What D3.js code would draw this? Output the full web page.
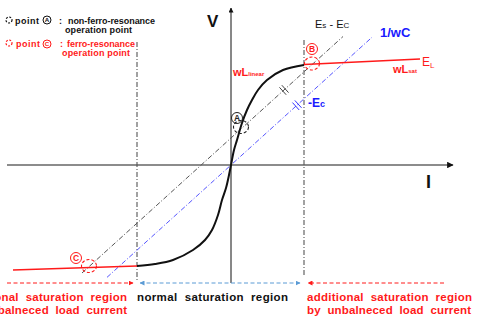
<!DOCTYPE html>
<html><head><meta charset="utf-8">
<script src="https://cdn.jsdelivr.net/npm/d3@7/dist/d3.min.js"></script>
<style>body{margin:0;background:#fff}svg{display:block;font-family:"Liberation Sans",Arial,sans-serif;font-weight:bold}</style>
</head><body>
<svg id="c" width="477" height="320"></svg>
<script>
// ---- data (arbitrary I / V units) ----
const magCurve = [[-9.4,-10.1],[-7.6,-9.9],[-5.8,-9.5],[-3.8,-8.5],[-2.6,-7.5],[-1.9,-6.5],[-1.3,-5.0],[-0.9,-3.5],[-0.5,-2.3],[-0.2,-1.0],[0,0],[0.3,1.5],[0.6,2.5],[1.1,4.2],[1.6,5.5],[2.1,6.5],[2.7,7.5],[3.6,8.5],[5.2,9.5],[7.3,10.0]];
const satRight = [[7.3,10.05],[18.9,10.6]];
const satLeft = [[-21.8,-10.5],[-9.4,-10.1]];
const capSlope = 0.906;          // 1/wC
const esOffset = 2.7;            // Es - Ec
const capRange = [-12.4, 14.1];
const esRange = [-14.9, 11.2];
const limitI = [-9.4, 7.3];
const limitV = [[12.3,-11.5],[12.5,-11.0]];
const opPoints = [{id:"A",I:1.0,V:3.8,c:"#222"},{id:"B",I:8.1,V:10.15,c:"#ff1a1a"},{id:"C",I:-14.2,V:-10.1,c:"#ff1a1a"}];
const opLabels = [{id:"A",I:0.6,V:4.7,c:"#222"},{id:"B",I:8.1,V:11.6,c:"#ff1a1a"},{id:"C",I:-15.5,V:-9.3,c:"#ff1a1a"}];
const hashes = [{I:5.3,off:esOffset,c:"#444"},{I:6.6,off:0,c:"#3333ff"}];
const regionText = [
  {x:127,a:"end",c:"#ff1a1a",l:["additional  saturation  region","by  unbalneced  load  current"],w:[165,164]},
  {x:137,a:"start",c:"#111",l:["normal  saturation  region"],w:[151]},
  {x:307,a:"start",c:"#ff1a1a",l:["additional  saturation  region","by  unbalneced  load  current"],w:[165,164]}];

const svg = d3.select("#c");
const x = d3.scaleLinear().domain([-10,10]).range([131,331]);
const y = d3.scaleLinear().domain([-10,10]).range([265,65]);
const line = d3.line().x(d=>x(d[0])).y(d=>y(d[1]));

const defs = svg.append("defs");
function marker(id,color){
  defs.append("marker").attr("id",id).attr("viewBox","0 0 10 10").attr("refX",9).attr("refY",5)
   .attr("markerWidth",5).attr("markerHeight",5).attr("orient","auto-start-reverse")
   .append("path").attr("d","M0,0L10,5L0,10z").attr("fill",color);
}
marker("ak","#111"); marker("ar","#ff1a1a"); marker("ab","#5b9bd5");

// axes
svg.append("line").attr("x1",x(-22.4)).attr("x2",x(22.2)).attr("y1",y(0)).attr("y2",y(0))
  .attr("stroke","#666").attr("stroke-width",1.3).attr("marker-end","url(#ak)");
svg.append("line").attr("x1",x(0)).attr("x2",x(0)).attr("y1",y(-11.8)).attr("y2",y(15.7))
  .attr("stroke","#111").attr("stroke-width",1).attr("marker-end","url(#ak)");

// vertical limit lines
limitI.forEach((v,i)=>{
  svg.append("line").attr("x1",x(v)).attr("x2",x(v)).attr("y1",y(limitV[i][0])).attr("y2",y(limitV[i][1]))
   .attr("stroke","#555").attr("stroke-width",1.1).attr("stroke-dasharray","5,2,1,2");
});

// capacitor lines
svg.append("path").attr("d",line(capRange.map(i=>[i,capSlope*i]))).attr("fill","none")
  .attr("stroke","#5555ff").attr("stroke-width",1).attr("stroke-dasharray","5,2,1,2");
svg.append("path").attr("d",line(esRange.map(i=>[i,esOffset+capSlope*i]))).attr("fill","none")
  .attr("stroke","#555").attr("stroke-width",1).attr("stroke-dasharray","5,2,1,2");

// hash marks
hashes.forEach(h=>{
  const px=x(h.I), py=y(h.off+capSlope*h.I);
  const ang=Math.atan2(-capSlope,1);
  const dx=Math.cos(ang), dy=Math.sin(ang);
  [-1.6,1.6].forEach(s=>{
    const cx=px+dx*s, cy=py+dy*s;
    svg.append("line").attr("x1",cx-dy*5).attr("y1",cy+dx*5).attr("x2",cx+dy*5).attr("y2",cy-dx*5)
      .attr("stroke",h.c).attr("stroke-width",1);
  });
});

// saturation red lines
[satRight,satLeft].forEach(d=>svg.append("path").attr("d",line(d)).attr("fill","none").attr("stroke","#ff1a1a").attr("stroke-width",1.5));
// magnetizing curve
svg.append("path").attr("d",d3.line().curve(d3.curveCatmullRom).x(d=>x(d[0])).y(d=>y(d[1]))(magCurve))
  .attr("fill","none").attr("stroke","#111").attr("stroke-width",2);

// operating points
opPoints.forEach(p=>svg.append("ellipse").attr("cx",x(p.I)).attr("cy",y(p.V)).attr("rx",7.5).attr("ry",6.5)
  .attr("fill","none").attr("stroke",p.c).attr("stroke-width",1.1).attr("stroke-dasharray","3,2"));
function circ(g,cx,cy,id,c,r){
  g.append("circle").attr("cx",cx).attr("cy",cy).attr("r",r).attr("fill","none").attr("stroke",c).attr("stroke-width",1);
  g.append("text").attr("x",cx).attr("y",cy+r*0.55).attr("text-anchor","middle").attr("font-size",r*1.55).attr("fill",c).text(id);
}
opLabels.forEach(p=>circ(svg,x(p.I),y(p.V),p.id,p.c,5.5));

// text labels
function txt(xp,yp,parts,color,size){
  const t=svg.append("text").attr("x",xp).attr("y",yp).attr("fill",color).attr("font-size",size);
  parts.forEach(p=>t.append("tspan").attr("font-size",p[1]||size).attr("dy",p[2]||0).text(p[0]));
  return t;
}
txt(207,27,[["V"]],"#111",17);
txt(426,188,[["I"]],"#111",18);
txt(315,28,[["E"],["s",8],[" -  ",11],["E",11],["C",8]],"#111",11).attr("font-weight","normal");
txt(380,37,[["1/wC"]],"#1a1aff",13);
txt(422,66,[["E"],["L",8,2]],"#ff1a1a",12).attr("font-weight","normal");
txt(393,73,[["wL"],["sat",6]],"#ff1a1a",11);
txt(233,76,[["wL"],["linear",6]],"#ff1a1a",11);
txt(308,107,[["-E"],["c",9]],"#1a1aff",12);

// legend
const lg=svg.append("g");
function lt(xp,yp,s,c,w,fs){ const t=lg.append("text").attr("x",xp).attr("y",yp).attr("font-size",fs||9).attr("fill",c).style("white-space","pre").text(s); if(w) t.attr("textLength",w).attr("lengthAdjust","spacing"); }
lg.append("circle").attr("cx",9).attr("cy",20).attr("r",3).attr("fill","none").attr("stroke","#111").attr("stroke-width",1.2).attr("stroke-dasharray","2,1.5");
lg.append("circle").attr("cx",9).attr("cy",43).attr("r",3).attr("fill","none").attr("stroke","#ff1a1a").attr("stroke-width",1.2).attr("stroke-dasharray","2,1.5");
lt(15,23.5,"point","#111",24);
circ(lg,47,20,"A","#111",4);
lt(59,23.5,":","#111");
lt(68,23.5,"non-ferro-resonance","#111",87);
lt(65,33,"operation point","#111",67);
lt(16,46.5,"point","#ff1a1a",24);
circ(lg,47,44,"C","#ff1a1a",4);
lt(60,46.5,":","#ff1a1a");
lt(67,46.5,"ferro-resonance","#ff1a1a",68);
lt(62,55.5,"operation point","#ff1a1a",68);

// region arrows
const ay=283;
svg.append("line").attr("x1",7).attr("x2",133).attr("y1",ay).attr("y2",ay).attr("stroke","#ff1a1a").attr("stroke-dasharray","4,2.5").attr("marker-end","url(#ar)");
svg.append("line").attr("x1",140).attr("x2",300).attr("y1",ay).attr("y2",ay).attr("stroke","#5b9bd5").attr("stroke-dasharray","4,2.5").attr("marker-end","url(#ab)").attr("marker-start","url(#ab)");
svg.append("line").attr("x1",444).attr("x2",308).attr("y1",ay).attr("y2",ay).attr("stroke","#ff1a1a").attr("stroke-dasharray","4,2.5").attr("marker-end","url(#ar)");

// region labels
regionText.forEach(r=>r.l.forEach((s,i)=>svg.append("text").attr("x",r.x).attr("y",301+i*13).attr("text-anchor",r.a)
   .attr("font-size",11.5).attr("fill",r.c).style("white-space","pre")
   .attr("textLength",r.w[i]).attr("lengthAdjust","spacing").text(s)));
</script>
</body></html>
